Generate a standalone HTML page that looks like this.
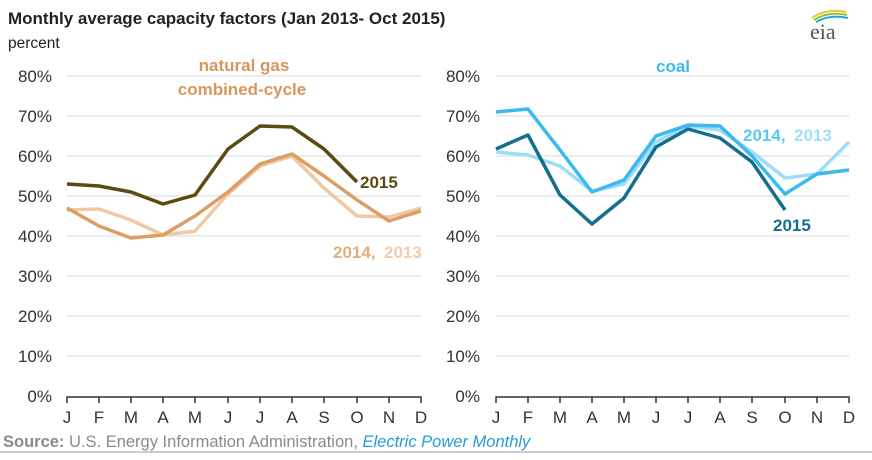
<!DOCTYPE html>
<html><head><style>
body{margin:0;background:#fff;}
svg text{font-family:"Liberation Sans",Arial,sans-serif;}
</style></head><body>
<svg width="872" height="455" viewBox="0 0 872 455" xmlns="http://www.w3.org/2000/svg">
<text x="8" y="24" font-size="17" font-weight="bold" fill="#222">Monthly average capacity factors (Jan 2013- Oct 2015)</text>
<text x="8" y="48" font-size="15.5" fill="#222">percent</text>
<path d="M812 18 Q826 8 846 12" stroke="#f2c230" stroke-width="2" fill="none"/>
<path d="M814 20 Q828 11 847 15" stroke="#8cc63f" stroke-width="2" fill="none"/>
<path d="M816 22 Q830 14 848 18" stroke="#2aa3d8" stroke-width="2" fill="none"/>
<text x="810" y="39" font-size="22" fill="#555" style="font-family:'Liberation Serif',serif">eia</text>
<g font-size="17" fill="#333" text-anchor="end">
<text x="52" y="82">80%</text><text x="52" y="122">70%</text><text x="52" y="162">60%</text><text x="52" y="202">50%</text><text x="52" y="242">40%</text><text x="52" y="282">30%</text><text x="52" y="322">20%</text><text x="52" y="362">10%</text><text x="52" y="402">0%</text>
<text x="480" y="82">80%</text><text x="480" y="122">70%</text><text x="480" y="162">60%</text><text x="480" y="202">50%</text><text x="480" y="242">40%</text><text x="480" y="282">30%</text><text x="480" y="322">20%</text><text x="480" y="362">10%</text><text x="480" y="402">0%</text>
</g>
<g stroke="#d9d9d9" stroke-width="1">
<line x1="67" x2="421" y1="76" y2="76"/><line x1="67" x2="421" y1="116" y2="116"/><line x1="67" x2="421" y1="156" y2="156"/><line x1="67" x2="421" y1="196" y2="196"/><line x1="67" x2="421" y1="236" y2="236"/><line x1="67" x2="421" y1="276" y2="276"/><line x1="67" x2="421" y1="316" y2="316"/><line x1="67" x2="421" y1="356" y2="356"/>
<line x1="496" x2="849" y1="76" y2="76"/><line x1="496" x2="849" y1="116" y2="116"/><line x1="496" x2="849" y1="156" y2="156"/><line x1="496" x2="849" y1="196" y2="196"/><line x1="496" x2="849" y1="236" y2="236"/><line x1="496" x2="849" y1="276" y2="276"/><line x1="496" x2="849" y1="316" y2="316"/><line x1="496" x2="849" y1="356" y2="356"/>
</g>
<g stroke="#333" stroke-width="1.5" fill="none">
<path d="M67 403V397H421V403 M99 397v6 M131 397v6 M163 397v6 M195 397v6 M228 397v6 M260 397v6 M292 397v6 M324 397v6 M357 397v6 M389 397v6"/>
<path d="M496 403V397H849V403 M528 397v6 M560 397v6 M592 397v6 M624 397v6 M656 397v6 M688 397v6 M720 397v6 M752 397v6 M785 397v6 M817 397v6"/>
</g>
<g font-size="17" fill="#333" text-anchor="middle">
<text x="67" y="423">J</text><text x="99" y="423">F</text><text x="131" y="423">M</text><text x="163" y="423">A</text><text x="195" y="423">M</text><text x="228" y="423">J</text><text x="260" y="423">J</text><text x="292" y="423">A</text><text x="324" y="423">S</text><text x="357" y="423">O</text><text x="389" y="423">N</text><text x="421" y="423">D</text>
<text x="496" y="423">J</text><text x="528" y="423">F</text><text x="560" y="423">M</text><text x="592" y="423">A</text><text x="624" y="423">M</text><text x="656" y="423">J</text><text x="688" y="423">J</text><text x="720" y="423">A</text><text x="752" y="423">S</text><text x="785" y="423">O</text><text x="817" y="423">N</text><text x="849" y="423">D</text>
</g>
<g fill="none" stroke-width="3.5" stroke-linejoin="round">
<polyline stroke="#f0c9a2" points="67,210 99,209 131,220 163,235 195,231 228,194 260,166 292,156 324,188 357,216 389,217 421,208"/>
<polyline stroke="#dc9d66" points="67,208 99,226 131,238 163,235 195,216 228,192 260,164 292,154 324,176 357,200 389,221 421,211"/>
<polyline stroke="#5b4a12" points="67,184 99,186 131,192 163,204 195,195 228,149 260,126 292,127 324,149 357,182"/>
<polyline stroke="#9dddf7" points="496,152 528,155 560,166 592,191 624,184 656,142 688,126 720,130 752,152 785,178 817,174 849,142"/>
<polyline stroke="#3cbaee" points="496,112 528,109 560,150 592,192 624,180 656,136 688,125 720,126 752,156 785,194 817,174 849,170"/>
<polyline stroke="#156e8e" points="496,149 528,135 560,195 592,224 624,198 656,147 688,129 720,138 752,162 785,210"/>
</g>
<g font-size="17" font-weight="bold">
<text x="244" y="71" fill="#d9965c" text-anchor="middle">natural gas</text>
<text x="242" y="95" fill="#d9965c" text-anchor="middle">combined-cycle</text>
<text x="360" y="188" fill="#5b4a12">2015</text>
<text x="333" y="258" fill="#e3ad7d">2014,</text><text x="384" y="258" fill="#f2cda8">2013</text>
<text x="673" y="72" fill="#3cbaee" text-anchor="middle">coal</text>
<text x="743" y="141" fill="#5cc8f2">2014,</text><text x="794" y="141" fill="#a4dff7">2013</text>
<text x="773" y="231" fill="#156e8e">2015</text>
</g>
<line x1="0" y1="452" x2="872" y2="452" stroke="#ccc" stroke-width="2"/>
<text x="3" y="447" font-size="16.5" fill="#8a8a8a"><tspan font-weight="bold">Source:</tspan> U.S. Energy Information Administration, <tspan fill="#2a9ad8" font-style="italic">Electric Power Monthly</tspan></text>
</svg>
</body></html>
